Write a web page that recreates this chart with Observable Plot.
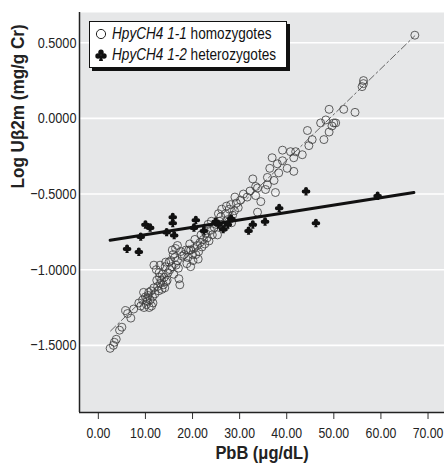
<!DOCTYPE html>
<html>
<head>
<meta charset="utf-8">
<script src="https://cdn.jsdelivr.net/npm/d3@7"></script>
<script src="https://cdn.jsdelivr.net/npm/@observablehq/plot@0.6"></script>
<style>
  html, body { margin: 0; padding: 0; background: #fff; }
  #wrap { position: relative; width: 444px; height: 468px; font-family: "Liberation Sans", Arial, sans-serif; }
  #legend { position: absolute; left: 89px; top: 21px; width: 196px; height: 45px; background: #fff; border: 1px solid #111; box-shadow: 3px 3px 0 #111; font-size: 16px; color: #111; }
  #legend .row { position: absolute; left: 5px; height: 20px; line-height: 20px; white-space: nowrap; }
  #legend svg { vertical-align: -1px; margin-right: 5px; }
  #legend .t { display: inline-block; transform: scaleX(0.85); transform-origin: left center; }
</style>
</head>
<body>
<div id="wrap"></div>
<script>
// ---- data ----
const xTicks = [0, 10, 20, 30, 40, 50, 60, 70];
const yTicks = [-1.5, -1.0, -0.5, 0.0, 0.5];

// HpyCH4 1-1 homozygotes: [PbB, log Ub2m]
const homozygotes = [
  [2.5,-1.52],[3.2,-1.50],[3.4,-1.48],[3.8,-1.46],[4.5,-1.40],[5.0,-1.38],[5.8,-1.27],[6.2,-1.29],[6.9,-1.32],[7.5,-1.26],
  [8.6,-1.22],[9.0,-1.24],[9.4,-1.20],[9.7,-1.25],[10.0,-1.18],[10.2,-1.23],[10.4,-1.21],[10.6,-1.17],[10.8,-1.25],[11.0,-1.20],
  [9.6,-1.15],[10.7,-1.15],[11.2,-1.14],[11.5,-1.18],[11.8,-1.12],[11.6,-1.22],[12.0,-1.16],[10.3,-1.19],[11.3,-1.24],
  [11.8,-0.97],[12.3,-1.00],[12.9,-1.02],[13.2,-1.09],[13.0,-1.05],[12.6,-1.11],[13.4,-1.07],[13.6,-1.03],[13.8,-1.10],[14.0,-1.05],
  [14.2,-0.98],[14.4,-1.08],[14.6,-1.07],[14.8,-1.02],[12.4,-1.07],[13.1,-0.97],[14.1,-1.12],[12.8,-1.14],[13.5,-1.13],[14.3,-0.95],
  [15.0,-0.95],[15.4,-0.94],[15.6,-0.98],[15.9,-0.90],[16.2,-0.92],[16.5,-0.97],[16.8,-0.84],[16.8,-0.94],[17.1,-1.06],[17.3,-1.10],
  [17.5,-0.88],[17.8,-0.91],[15.2,-1.00],[16.0,-1.03],[15.7,-0.87],[16.4,-0.86],[17.0,-0.99],
  [18.2,-0.90],[18.6,-0.87],[19.0,-0.92],[19.2,-0.87],[19.6,-0.98],[19.6,-0.87],[20.0,-0.90],[20.3,-0.86],[20.7,-0.90],[21.0,-0.84],
  [21.3,-0.88],[21.6,-0.82],[22.0,-0.85],[22.3,-0.80],[22.6,-0.83],[23.1,-0.79],[19.4,-0.83],[20.5,-0.80],[21.8,-0.77],[22.8,-0.76],
  [18.8,-0.96],[20.1,-0.94],[23.5,-0.81],[21.2,-0.93],
  [23.8,-0.74],[24.2,-0.77],[24.6,-0.72],[25.0,-0.70],[25.3,-0.77],[25.7,-0.68],[26.0,-0.65],[26.4,-0.70],[27.0,-0.63],[27.4,-0.67],
  [27.8,-0.60],[28.1,-0.57],[28.5,-0.64],[28.9,-0.61],[29.3,-0.56],[29.7,-0.59],[30.2,-0.54],[24.0,-0.68],[25.5,-0.63],[26.8,-0.72],
  [27.2,-0.58],[28.3,-0.69],[29.0,-0.52],[23.3,-0.70],[26.2,-0.60],
  [30.8,-0.50],[31.6,-0.52],[32.2,-0.48],[33.4,-0.45],[33.4,-0.51],[33.8,-0.46],[34.5,-0.55],[33.8,-0.62],[35.5,-0.47],[35.9,-0.44],
  [35.9,-0.39],[36.4,-0.33],[36.9,-0.26],[37.3,-0.41],[37.6,-0.49],[38.3,-0.36],[39.1,-0.21],[39.1,-0.28],[40.1,-0.33],[40.8,-0.22],
  [41.5,-0.26],[41.5,-0.35],[41.9,-0.22],[43.3,-0.24],[44.4,-0.08],[44.7,-0.18],[45.4,-0.14],[32.8,-0.40],[38.0,-0.30],
  [47.2,-0.03],[47.9,-0.14],[48.3,-0.01],[49.0,0.06],[49.0,-0.09],[49.6,-0.05],[50.0,-0.03],[50.4,-0.03],[52.1,0.06],[54.5,0.04],
  [56.0,0.21],[56.3,0.23],[56.3,0.25],[67.2,0.55]
];

// HpyCH4 1-2 heterozygotes
const heterozygotes = [
  [6.1,-0.86],[8.6,-0.88],[9.0,-0.78],[10.0,-0.70],[11.0,-0.72],[14.5,-0.75],[15.8,-0.65],[15.8,-0.69],[16.1,-0.77],
  [20.3,-0.72],[20.7,-0.67],[22.4,-0.74],[24.9,-0.68],[25.5,-0.70],[26.5,-0.73],[27.5,-0.70],[28.2,-0.66],
  [31.9,-0.74],[32.8,-0.70],[35.4,-0.68],[38.4,-0.59],[44.1,-0.48],[46.2,-0.69],[59.3,-0.51]
];

// fitted regression lines (end points)
const fitHomo = [[2.6,-1.405],[67.2,0.546]];
const fitHetero = [[2.5,-0.805],[67.0,-0.49]];

const xDomain = [-4, 73.5];
const yDomain = [-1.944, 0.70];

// club-shaped symbol for heterozygotes
const club = {
  draw(context, size) {
    const r = Math.sqrt(size / Math.PI);
    const a = r * 0.44;
    const lobes = [[0, -r * 0.42], [-r * 0.5, r * 0.12], [r * 0.5, r * 0.12]];
    for (const [cx, cy] of lobes) {
      context.moveTo(cx + a, cy);
      context.arc(cx, cy, a, 0, 2 * Math.PI);
    }
    context.moveTo(-r * 0.12, 0);
    context.lineTo(r * 0.12, 0);
    context.lineTo(r * 0.38, r * 0.95);
    context.lineTo(-r * 0.38, r * 0.95);
    context.closePath();
  }
};

const font = '"Liberation Sans", Arial, sans-serif';

const chart = Plot.plot({
  width: 444,
  height: 468,
  marginLeft: 79,
  marginRight: 0,
  marginTop: 12,
  marginBottom: 56,
  style: { fontFamily: font, fontSize: "15.5px", color: "#222", background: "transparent" },
  x: { domain: xDomain },
  y: { domain: yDomain },
  marks: [
    Plot.frame({ fill: "#e6e7e8", stroke: null }),
    Plot.gridY(yTicks, { stroke: "#fff", strokeOpacity: 1, strokeWidth: 1.6 }),
    Plot.axisX({ ticks: xTicks, tickFormat: d3.format(".2f"), tickSize: 7, tickPadding: 8, stroke: "#333", label: null, fontSize: 15 }),
    Plot.axisY({ ticks: yTicks, tickFormat: d3.format(".4f"), tickSize: 0, tickPadding: 3, label: null, fontSize: 15.5 }),
    Plot.ruleX([xDomain[0]], { stroke: "#222", strokeWidth: 1.5 }),
    Plot.ruleY([yDomain[0]], { stroke: "#222", strokeWidth: 1.5 }),
    Plot.line(fitHomo, { x: d => d[0], y: d => d[1], stroke: "#555", strokeWidth: 0.9, strokeDasharray: "7,3,2,3" }),
    Plot.dot(homozygotes, { x: d => d[0], y: d => d[1], r: 4, symbol: "circle", stroke: "#3a3a3a", strokeWidth: 0.8, fill: "none" }),
    Plot.line(fitHetero, { x: d => d[0], y: d => d[1], stroke: "#111", strokeWidth: 3 }),
    Plot.dot(heterozygotes, { x: d => d[0], y: d => d[1], r: 4.6, symbol: club, fill: "#111", stroke: "none" }),
    Plot.text(["PbB (μg/dL)"], { frameAnchor: "bottom", dy: 46, fontWeight: "bold", fontSize: 18.5, fill: "#222" }),
    Plot.text(["Log Uβ2m (mg/g Cr)"], { frameAnchor: "left", dx: -62, dy: -24, rotate: -90, fontWeight: "bold", fontSize: 19, fill: "#222" })
  ]
});

// condense all texts horizontally (mimics a narrow typeface)
d3.select(chart).selectAll("text").each(function () {
  const t = this;
  const bold = (t.getAttribute("font-weight") === "bold") || t.closest("[font-weight='bold']");
  const s = bold ? (t.textContent.startsWith("Log") ? 0.9 : 0.89) : 0.82;
  const x = +(t.getAttribute("x") || 0);
  t.removeAttribute("x");
  const tr = t.getAttribute("transform") || "";
  t.setAttribute("transform", `${tr} translate(${x},0) scale(${s},1)`);
});

const wrap = document.getElementById("wrap");
wrap.appendChild(chart);

// legend
const legend = document.createElement("div");
legend.id = "legend";
legend.innerHTML =
  '<div class="row" style="top:2px"><svg width="12" height="12"><circle cx="6" cy="6" r="4.6" fill="none" stroke="#222" stroke-width="1"/></svg><span class="t"><i>HpyCH4 1-1</i> homozygotes</span></div>' +
  '<div class="row" style="top:23px"><svg width="12" height="12"><circle cx="6" cy="3.3" r="2.7" fill="#111"/><circle cx="3" cy="7" r="2.7" fill="#111"/><circle cx="9" cy="7" r="2.7" fill="#111"/><path d="M5.3,6 L6.7,6 L8,12 L4,12 Z" fill="#111"/></svg><span class="t"><i>HpyCH4 1-2</i> heterozygotes</span></div>';
wrap.appendChild(legend);
</script>
</body>
</html>
